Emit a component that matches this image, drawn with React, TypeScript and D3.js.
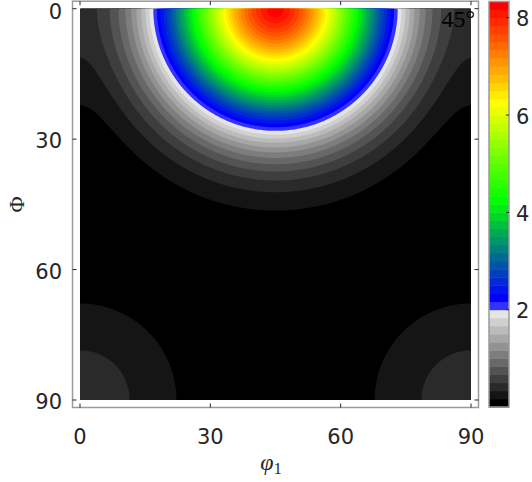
import React, { useMemo } from "react";
import * as d3 from "d3";

// ODF section at phi2 = 45 deg (values in multiples of random distribution)
const phi1Ticks = [0, 30, 60, 90];
const PhiTicks = [0, 30, 60, 90];
const colorbarTicks = [2, 4, 6, 8];
const sectionLabel = "45°";

// texture components: centre (phi1, Phi), height, radial decay terms
const peakPhi1 = [45, 0];
const peakPhi = [0, 90];
const peakHeight = [8.33, 0.428];
const decayLinear = [0.00716, 0];
const decayQuad = [0.001384, 0.001916];
const decayCubic = [0.000006, 0];
const phi1Period = 90;

// contour levels 0 .. 8.33 in steps of 1/6, gray below 2 then blue-green-yellow-red
const levelStep = 1 / 6;
const levelCount = 50;
const grayBands = 12;
const firstColorBand = "#3333ff";
const colorStops = ["#0000ff", "#00ff00", "#ffff00", "#ff0000"];

const W = 532;
const H = 482;
const N = 240;
const textColor = "#262626";
const boxColor = "#9a9a9a";

function odfValue(p1: number, P: number) {
  let v = 0;
  for (let c = 0; c < peakPhi1.length; c++) {
    for (const shift of [-phi1Period, 0, phi1Period]) {
      const d = Math.hypot(p1 - peakPhi1[c] - shift, P - peakPhi[c]);
      v += peakHeight[c] * Math.exp(-(decayLinear[c] * d + decayQuad[c] * d * d + decayCubic[c] * d * d * d));
    }
  }
  return v;
}

const colorRamp = d3.piecewise(d3.interpolateRgb, colorStops);

function bandColor(k: number) {
  if (k < grayBands) {
    const g = Math.round((229 * k) / (grayBands - 1));
    return d3.rgb(g, g, g).formatHex();
  }
  if (k === grayBands) return firstColorBand;
  const t = (k - grayBands - 1) / (levelCount - grayBands - 2);
  return d3.color(colorRamp(t))!.formatHex();
}

const App: React.FC = () => {
  const x = d3.scaleLinear().domain([0, 90]).range([80, 471]);
  const y = d3.scaleLinear().domain([0, 90]).range([8.7, 400]);
  const cb = d3.scaleLinear().domain([0, levelCount * levelStep]).range([407, 1.5]);

  const levels = d3.range(levelCount).map((k) => k * levelStep);

  const bands = useMemo(() => {
    const values = new Array(N * N);
    for (let j = 0; j < N; j++) {
      for (let i = 0; i < N; i++) {
        values[j * N + i] = odfValue(((i + 0.5) * 90) / N, ((j + 0.5) * 90) / N);
      }
    }
    return d3.contours().size([N, N]).thresholds(levels)(values);
  }, []);

  const path = d3.geoPath(
    d3.geoTransform({
      point(px: number, py: number) {
        this.stream.point(x((px * 90) / N), y((py * 90) / N));
      },
    })
  );

  const [x0, x1] = x.range();
  const [y0, y1] = y.range();
  const pad = 7.5;
  const tickLen = 4;

  return (
    <svg
      width={W}
      height={H}
      style={{ position: "absolute", left: 0, top: 0, background: "#fff" }}
      fontFamily="DejaVu Sans"
    >
      {/* axes box */}
      <rect x={x0 - pad} y={y0 - pad} width={x1 - x0 + 2 * pad} height={y1 - y0 + 2 * pad} fill="#fff" stroke={boxColor} strokeWidth={1.5} />

      {/* filled contours */}
      <rect x={x0} y={y0} width={x1 - x0} height={y1 - y0} fill="#000" />
      {bands.map((b, k) => (
        <path key={k} d={path(b as any) || ""} fill={bandColor(k)} stroke="none" />
      ))}

      {/* ticks on all four sides */}
      {phi1Ticks.map((t) => (
        <g key={"xt" + t} stroke={textColor} strokeWidth={1}>
          <line x1={x(t)} x2={x(t)} y1={y1 + pad} y2={y1 + pad - tickLen} />
          <line x1={x(t)} x2={x(t)} y1={y0 - pad} y2={y0 - pad + tickLen} />
        </g>
      ))}
      {PhiTicks.map((t) => (
        <g key={"yt" + t} stroke={textColor} strokeWidth={1}>
          <line x1={x0 - pad} x2={x0 - pad + tickLen} y1={y(t)} y2={y(t)} />
          <line x1={x1 + pad} x2={x1 + pad - tickLen} y1={y(t)} y2={y(t)} />
        </g>
      ))}

      {/* tick labels */}
      {phi1Ticks.map((t) => (
        <text key={"xl" + t} x={x(t)} y={443.5} textAnchor="middle" fontSize={21} fill={textColor}>
          {t}
        </text>
      ))}
      {PhiTicks.map((t) => (
        <text key={"yl" + t} x={62} y={Math.max(y(t) + 2, 12)} textAnchor="end" dominantBaseline="central" fontSize={21} fill={textColor}>
          {t}
        </text>
      ))}

      {/* axis labels */}
      <text x={271} y={470} textAnchor="middle" fontFamily="Liberation Serif" fill={textColor}>
        <tspan fontSize={24} fontStyle="italic">φ</tspan>
        <tspan fontSize={16} dy={4}>1</tspan>
      </text>
      <text
        transform={`translate(16, ${(y0 + y1) / 2}) rotate(-90)`}
        textAnchor="middle"
        dominantBaseline="central"
        fontFamily="Liberation Serif"
        fontSize={22}
        fill={textColor}
      >
        Φ
      </text>
      <text x={475} y={26.5} textAnchor="end" fontFamily="Liberation Serif" fontSize={24} fill="#000">
        {sectionLabel}
      </text>

      {/* colorbar */}
      {levels.map((lv, k) => (
        <rect key={"cb" + k} x={489} width={20} y={cb(lv + levelStep)} height={cb(lv) - cb(lv + levelStep) + 0.5} fill={bandColor(k)} />
      ))}
      <rect x={489} y={cb.range()[1]} width={20} height={cb.range()[0] - cb.range()[1]} fill="none" stroke={boxColor} strokeWidth={1.5} />
      {colorbarTicks.map((t) => (
        <g key={"cbt" + t}>
          <line x1={509} x2={506} y1={cb(t)} y2={cb(t)} stroke={textColor} strokeWidth={1} />
          <text x={516} y={cb(t) + 1.5} dominantBaseline="central" fontSize={21} fill={textColor}>
            {t}
          </text>
        </g>
      ))}
    </svg>
  );
};

export default App;
